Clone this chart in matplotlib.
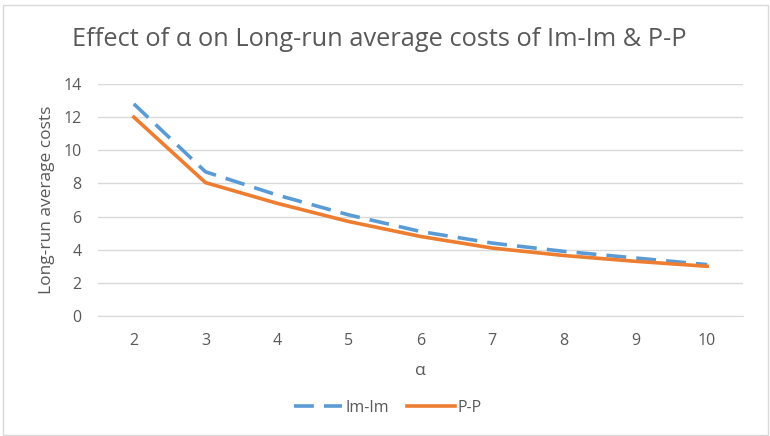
import matplotlib.pyplot as plt
from matplotlib.patches import Rectangle

# Long-run average costs for each alpha
alphas = [2, 3, 4, 5, 6, 7, 8, 9, 10]
im_im = [12.8, 8.7, 7.3, 6.1, 5.1, 4.4, 3.9, 3.5, 3.1]
p_p = [12.0, 8.05, 6.8, 5.7, 4.8, 4.1, 3.65, 3.3, 3.0]

plt.rcParams['font.family'] = ['Open Sans', 'DejaVu Sans']
gris = '#595959'

fig = plt.figure(figsize=(7.7, 4.36), dpi=100)
ax = fig.add_axes([98 / 770, 1 - 316 / 436, (743 - 98) / 770, (316 - 84) / 436])

ax.plot(alphas, im_im, color='#5b9bd5', lw=2.6, dashes=(5.5, 2.8), label='Im-Im')
ax.plot(alphas, p_p, color='#ed7d31', lw=2.6, label='P-P')

ax.set_xlim(1.5, 10.5)
ax.set_ylim(0, 14)
ax.set_yticks(range(0, 15, 2))
ax.set_xticks(alphas)
ax.grid(axis='y', color='#d9d9d9', lw=1)
ax.set_axisbelow(True)
for s in ['top', 'right', 'left']:
    ax.spines[s].set_visible(False)
ax.spines['bottom'].set_color('#d9d9d9')
ax.tick_params(length=0, colors=gris, labelsize=11.5, pad=12)
ax.tick_params(axis='x', pad=12)

ax.set_ylabel('Long-run average costs', color=gris, fontsize=12.5, labelpad=6)
ax.set_xlabel('α', color=gris, fontsize=12.5, labelpad=10)

fig.text(0.492, 1 - 40 / 436, 'Effect of α on Long-run average costs of Im-Im & P-P',
         ha='center', va='center', color=gris, fontsize=18.3)

ax.legend(loc='center', bbox_to_anchor=(0.45, -0.395), ncol=2, frameon=False,
          fontsize=11.5, labelcolor=gris, handlelength=3.0, columnspacing=1.1,
          handletextpad=0.2)

fig.patches.append(Rectangle((3 / 770, 1 / 436), 765 / 770, 430 / 436,
                             transform=fig.transFigure, fill=False,
                             edgecolor='#d9d9d9', lw=1))

fig.savefig('out.png', dpi=100)
